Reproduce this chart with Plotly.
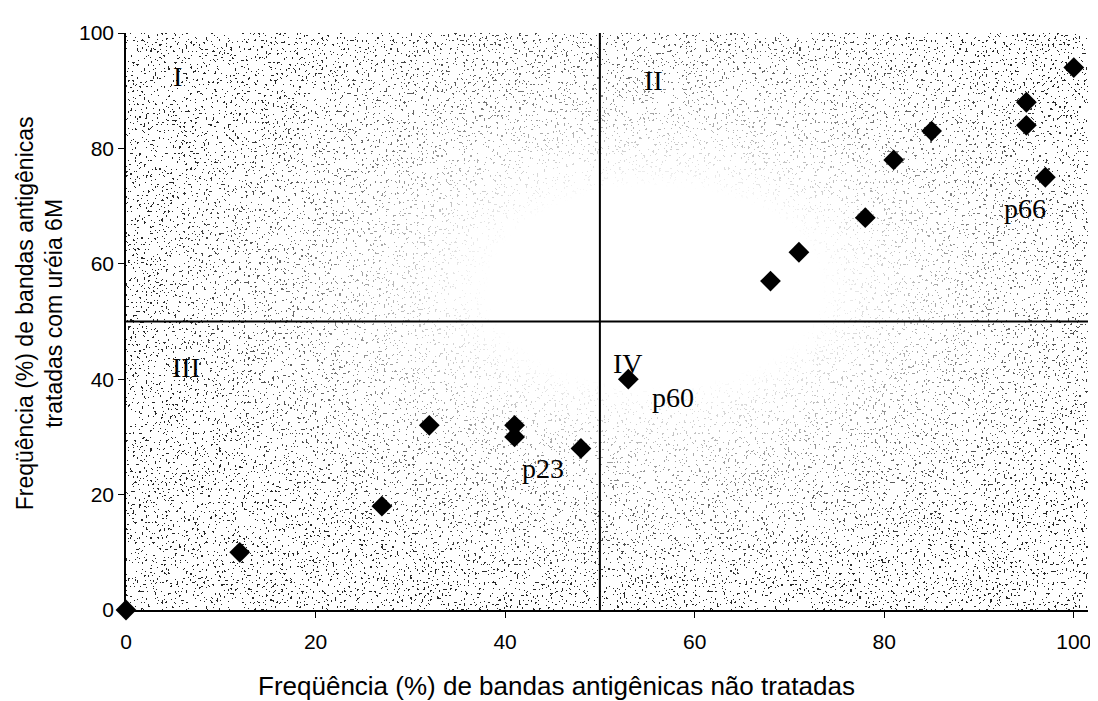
import base64
import plotly.graph_objects as go

# ---- data ----
x_untreated = [0, 12, 27, 32, 41, 41, 48, 53, 68, 71, 78, 81, 85, 95, 95, 97, 100]
y_urea = [0, 10, 18, 32, 32, 30, 28, 40, 57, 62, 68, 78, 83, 88, 84, 75, 94]

x_ticks = [0, 20, 40, 60, 80, 100]
y_ticks = [0, 20, 40, 60, 80, 100]

quadrant_labels = ["I", "II", "III", "IV"]
quadrant_x = [5.4, 55.7, 6.3, 53.0]
quadrant_y = [92.4, 91.8, 42.1, 42.8]

protein_labels = ["p60", "p23", "p66"]
protein_x = [57.7, 44.0, 94.8]
protein_y = [36.8, 24.6, 69.6]

threshold = 50
x_max = 101.5

# ---- stippled background texture (decoration) ----
W, H = 962, 577
svg = f"""<svg xmlns='http://www.w3.org/2000/svg' width='{W}' height='{H}' viewBox='0 0 {W} {H}' preserveAspectRatio='none'>
<defs>
<radialGradient id='g' cx='0.55' cy='0.44' r='0.62'>
<stop offset='0' stop-color='black'/>
<stop offset='0.28' stop-color='black'/>
<stop offset='0.6' stop-color='#a8a8a8'/>
<stop offset='0.86' stop-color='white'/>
<stop offset='1' stop-color='white'/>
</radialGradient>
<mask id='m'><rect x='0' y='0' width='{W}' height='{H}' fill='url(#g)'/></mask>
<filter id='n' x='0' y='0' width='100%' height='100%' color-interpolation-filters='sRGB'>
<feTurbulence type='fractalNoise' baseFrequency='0.45' numOctaves='1' seed='7'/>
<feColorMatrix type='matrix' values='0 0 0 0 0  0 0 0 0 0  0 0 0 0 0  1.6 0 0 0 -0.3'/>
<feComponentTransfer><feFuncA type='discrete' tableValues='0 0 0 0 0 0 0.85 0.85'/></feComponentTransfer>
</filter>
</defs>
<rect x='0' y='0' width='{W}' height='{H}' fill='black' filter='url(#n)' mask='url(#m)'/>
</svg>"""
svg_uri = "data:image/svg+xml;base64," + base64.b64encode(svg.encode()).decode()

fig = go.Figure()

fig.add_trace(go.Scatter(
    x=x_untreated, y=y_urea, mode="markers",
    marker=dict(symbol="diamond", size=16, color="black"),
    cliponaxis=False, showlegend=False, hoverinfo="x+y",
))

fig.add_layout_image(dict(
    source=svg_uri, xref="x", yref="y", x=0, y=100, sizex=x_max, sizey=100,
    sizing="stretch", layer="below", xanchor="left", yanchor="top",
))

fig.add_shape(type="line", x0=threshold, x1=threshold, y0=0, y1=100,
              xref="x", yref="y", line=dict(color="black", width=2))
fig.add_shape(type="line", x0=0, x1=x_max, y0=threshold, y1=threshold,
              xref="x", yref="y", line=dict(color="black", width=2))

serif = dict(family="Liberation Serif, Times New Roman, serif", size=28, color="black")
for t, xx, yy in zip(quadrant_labels, quadrant_x, quadrant_y):
    fig.add_annotation(x=xx, y=yy, text=t, showarrow=False, font=serif,
                       xanchor="center", yanchor="middle")
for t, xx, yy in zip(protein_labels, protein_x, protein_y):
    fig.add_annotation(x=xx, y=yy, text=t, showarrow=False, font=serif,
                       xanchor="center", yanchor="middle")

sans = "Liberation Sans, Arial, sans-serif"
fig.add_annotation(
    xref="paper", yref="paper", x=-0.09, y=0.515,
    text="Freqüência (%) de bandas antigênicas<br>tratadas com uréia 6M",
    textangle=-90, showarrow=False, xanchor="center", yanchor="middle",
    font=dict(family=sans, size=23, color="black"),
)
fig.add_annotation(
    xref="paper", yref="paper", x=0.448, y=-0.132,
    text="Freqüência (%) de bandas antigênicas não tratadas",
    showarrow=False, xanchor="center", yanchor="middle",
    font=dict(family=sans, size=26, color="black"),
)

fig.update_xaxes(
    range=[0, x_max], tickvals=x_ticks, ticks="outside", ticklen=6,
    tickcolor="black", showline=True, linecolor="black", linewidth=1.5,
    showgrid=False, zeroline=False, ticklabelstandoff=6,
    tickfont=dict(family=sans, size=21, color="black"),
)
fig.update_yaxes(
    range=[0, 100], tickvals=y_ticks, ticks="outside", ticklen=6,
    tickcolor="black", showline=True, linecolor="black", linewidth=1.5,
    showgrid=False, zeroline=False,
    tickfont=dict(family=sans, size=21, color="black"),
)

fig.update_layout(
    width=1098, height=701,
    margin=dict(l=118, r=18, t=25, b=99),
    paper_bgcolor="white", plot_bgcolor="rgba(0,0,0,0)",
    showlegend=False,
)

fig.write_html("out.html")
